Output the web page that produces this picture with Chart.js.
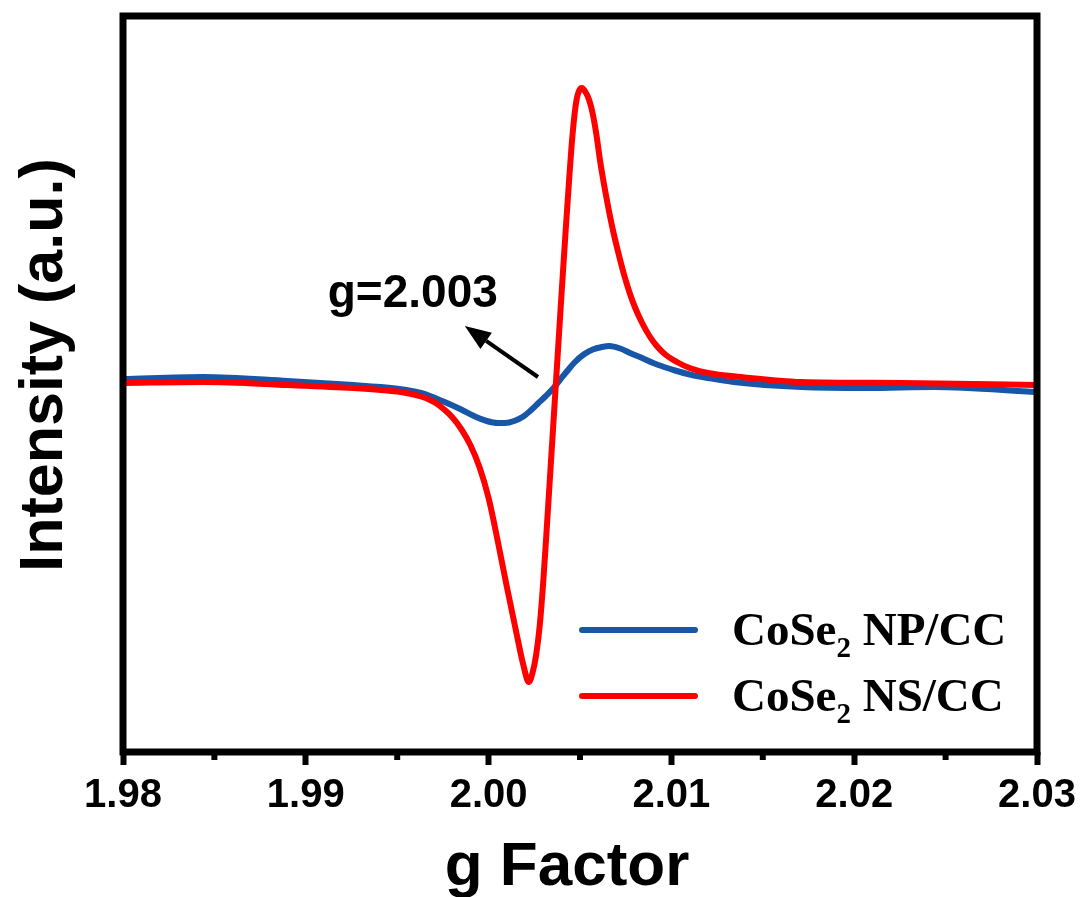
<!DOCTYPE html>
<html>
<head>
<meta charset="utf-8">
<script src="https://cdn.jsdelivr.net/npm/chart.js@4.4.0/dist/chart.umd.min.js"></script>
<style>
  html, body { margin: 0; padding: 0; background: #fff; }
  #wrap { width: 1086px; height: 897px; }
</style>
</head>
<body>
<div id="wrap"><canvas id="epr" width="1086" height="897"></canvas></div>
<script>
// g factor axis
const G_MIN = 1.98, G_MAX = 2.03;
const minorTicks = [1.985, 1.995, 2.005, 2.015, 2.025];
const xTitle = 'g Factor';
const yTitle = 'Intensity (a.u.)';

// CoSe2 NP/CC (blue)
const gNP = [1.9800, 1.9844, 1.9890, 1.9926, 1.9941, 1.9955, 1.9963, 1.9968, 1.9976, 1.9985,
             1.9992, 1.9999, 2.0005, 2.0009, 2.0014, 2.0019, 2.0023, 2.0027, 2.0031, 2.0035,
             2.0039, 2.0043, 2.0047, 2.0052, 2.0057, 2.0062, 2.0066, 2.0072, 2.0078, 2.0084,
             2.0090, 2.0096, 2.0102, 2.0110, 2.0120, 2.0134, 2.0171, 2.0207, 2.0244, 2.0300];
const intNP = [0.4, 0.6, 0.2, -0.2, -0.4, -0.7, -1.0, -1.3, -1.9, -2.65,
               -3.3, -3.8, -4.0, -4.0, -3.8, -3.35, -2.75, -2.05, -1.35, -0.6,
               0.3, 1.2, 2.05, 2.85, 3.35, 3.6, 3.7, 3.45, 2.95, 2.5,
               2.0, 1.6, 1.25, 0.85, 0.5, 0.1, -0.4, -0.5, -0.4, -0.9];

// CoSe2 NS/CC (red)
const gNS = [1.9800, 1.9844, 1.9890, 1.9926, 1.9941, 1.9955, 1.9963, 1.9968, 1.9972, 1.9976,
             1.9980, 1.9985, 1.9990, 1.9995, 2.0000, 2.0005, 2.0010, 2.0015, 2.0019, 2.0022,
             2.0024, 2.0026, 2.0028, 2.0030, 2.0032, 2.0034, 2.0036, 2.0038, 2.0040, 2.0042,
             2.0044, 2.0046, 2.0048, 2.0050, 2.0051, 2.0053, 2.0055, 2.0057, 2.0059, 2.0061,
             2.0063, 2.0065, 2.0068, 2.0071, 2.0074, 2.0077, 2.0080, 2.0084, 2.0088, 2.0092,
             2.0097, 2.0103, 2.0110, 2.0120, 2.0138, 2.0171, 2.0226, 2.0300];
const intNS = [0.0, 0.1, -0.2, -0.5, -0.7, -1.0, -1.35, -1.7, -2.1, -2.7,
               -3.4, -4.6, -6.2, -8.4, -11.5, -15.8, -20.4, -24.8, -28.2, -29.9,
               -29.0, -27.2, -24.2, -19.6, -14.0, -8.2, -2.4, 3.4, 9.2, 14.8,
               20.2, 25.0, 28.2, 29.4, 29.5, 29.1, 28.3, 26.9, 24.8, 22.2,
               20.0, 18.0, 15.3, 13.0, 10.9, 9.1, 7.6, 6.0, 4.7, 3.7,
               2.8, 2.1, 1.5, 1.0, 0.6, 0.1, 0.0, -0.2];

const labels = ['CoSe₂ NP/CC', 'CoSe₂ NS/CC'];
const colors = ['#1857a7', '#ff0000'];

// annotation (data coordinates)
const noteText = 'g=2.003';
const notePos = [1.9912, 7.6];
const arrowFrom = [2.0027, 0.6];
const arrowTo = [1.9987, 5.7];

function toPoints(xs, ys) {
    return xs.map((x, i) => ({ x: x, y: ys[i] }));
}

const SANS = '"Liberation Sans", Arial, sans-serif';
const SERIF = '"Liberation Serif", "Times New Roman", serif';

const framePlugin = {
    id: 'frame',
    afterDatasetsDraw(chart) {
        const ctx = chart.ctx, ca = chart.chartArea, xs = chart.scales.x, ys = chart.scales.y;
        ctx.save();
        // minor ticks
        ctx.strokeStyle = '#000';
        ctx.lineWidth = 6;
        minorTicks.forEach(v => {
            const px = xs.getPixelForValue(v);
            ctx.beginPath();
            ctx.moveTo(px, ca.bottom);
            ctx.lineTo(px, ca.bottom + 8);
            ctx.stroke();
        });
        // box
        ctx.lineWidth = 7;
        ctx.strokeRect(ca.left, ca.top, ca.right - ca.left, ca.bottom - ca.top);

        // axis titles
        ctx.fillStyle = '#000';
        ctx.textAlign = 'center';
        ctx.textBaseline = 'alphabetic';
        ctx.font = 'bold 62px ' + SANS;
        ctx.fillText(xTitle, (ca.left + ca.right) / 2 - 13, ca.bottom + 133);
        ctx.save();
        ctx.translate(ca.left - 61, (ca.top + ca.bottom) / 2 - 19);
        ctx.rotate(-Math.PI / 2);
        ctx.font = 'bold 61px ' + SANS;
        ctx.fillText(yTitle, 0, 0);
        ctx.restore();

        // arrow + note
        const x1 = xs.getPixelForValue(arrowFrom[0]), y1 = ys.getPixelForValue(arrowFrom[1]);
        const x2 = xs.getPixelForValue(arrowTo[0]), y2 = ys.getPixelForValue(arrowTo[1]);
        const ang = Math.atan2(y2 - y1, x2 - x1);
        const hl = 26, hw = 10;
        const bx = x2 - hl * Math.cos(ang), by = y2 - hl * Math.sin(ang);
        ctx.lineWidth = 4;
        ctx.beginPath();
        ctx.moveTo(x1, y1);
        ctx.lineTo(bx, by);
        ctx.stroke();
        ctx.beginPath();
        ctx.moveTo(x2, y2);
        ctx.lineTo(bx + hw * Math.sin(ang), by - hw * Math.cos(ang));
        ctx.lineTo(bx - hw * Math.sin(ang), by + hw * Math.cos(ang));
        ctx.closePath();
        ctx.fill();

        ctx.font = 'bold 46px ' + SANS;
        ctx.textAlign = 'left';
        ctx.fillText(noteText, xs.getPixelForValue(notePos[0]), ys.getPixelForValue(notePos[1]));

        // legend, inside the box at lower right
        chart.data.datasets.forEach((ds, i) => {
            const ly = ca.bottom - 122 + i * 66;
            ctx.strokeStyle = ds.borderColor;
            ctx.lineWidth = 6;
            ctx.lineCap = 'round';
            ctx.beginPath();
            ctx.moveTo(ca.left + 459, ly);
            ctx.lineTo(ca.left + 572, ly);
            ctx.stroke();

            const parts = ds.label.split('₂');
            let tx = ca.left + 609;
            const base = ly + 15;
            ctx.fillStyle = '#000';
            ctx.font = 'bold 47px ' + SERIF;
            ctx.fillText(parts[0], tx, base);
            tx += ctx.measureText(parts[0]).width;
            ctx.font = 'bold 29px ' + SERIF;
            ctx.fillText('2', tx, base + 12);
            tx += ctx.measureText('2').width;
            ctx.font = 'bold 47px ' + SERIF;
            ctx.fillText(parts[1], tx, base);
        });
        ctx.restore();
    }
};

new Chart(document.getElementById('epr'), {
    type: 'line',
    data: {
        datasets: [
            {
                label: labels[0],
                data: toPoints(gNP, intNP),
                borderColor: colors[0],
                borderWidth: 6,
                pointRadius: 0,
                cubicInterpolationMode: 'monotone',
                order: 1
            },
            {
                label: labels[1],
                data: toPoints(gNS, intNS),
                borderColor: colors[1],
                borderWidth: 6,
                pointRadius: 0,
                cubicInterpolationMode: 'monotone',
                order: 0
            }
        ]
    },
    options: {
        responsive: false,
        animation: false,
        devicePixelRatio: 1,
        layout: { padding: { top: 16, right: 49, left: 0, bottom: 0 } },
        plugins: { legend: { display: false }, tooltip: { enabled: false } },
        scales: {
            x: {
                type: 'linear',
                min: G_MIN,
                max: G_MAX,
                afterFit: (s) => { s.height = 145; },
                border: { display: false },
                grid: {
                    drawOnChartArea: false,
                    drawTicks: true,
                    tickLength: 13,
                    tickWidth: 6,
                    tickColor: '#000'
                },
                ticks: {
                    stepSize: 0.01,
                    padding: 7,
                    color: '#000',
                    maxRotation: 0,
                    font: { family: SANS, size: 40, weight: 'bold' },
                    callback: (v) => v.toFixed(2)
                },
                title: { display: false }
            },
            y: {
                min: -36.9,
                max: 36.7,
                afterFit: (s) => { s.width = 123; },
                border: { display: false },
                grid: { display: false },
                ticks: { display: false },
                title: { display: false }
            }
        }
    },
    plugins: [framePlugin]
});
</script>
</body>
</html>
